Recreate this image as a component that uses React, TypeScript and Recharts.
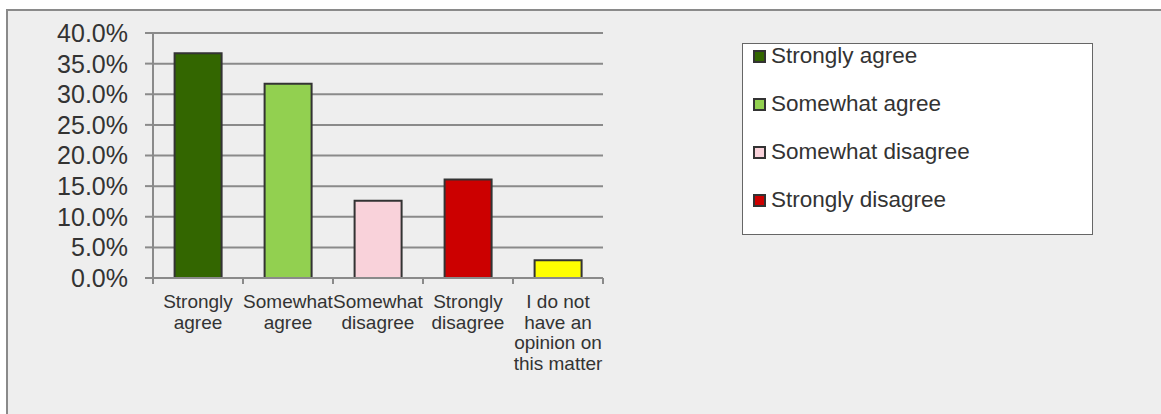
import React from "react"
import { Bar, BarChart, CartesianGrid, Cell, XAxis, YAxis } from "recharts"

const categories = [
  "Strongly agree",
  "Somewhat agree",
  "Somewhat disagree",
  "Strongly disagree",
  "I do not have an opinion on this matter",
]

// share of respondents, in percent
const shares = [36.7, 31.7, 12.6, 16.1, 2.9]

const colors = ["#336600", "#92d050", "#f9d2da", "#cc0000", "#ffff00"]

const tickLabels = [
  ["Strongly", "agree"],
  ["Somewhat", "agree"],
  ["Somewhat", "disagree"],
  ["Strongly", "disagree"],
  ["I do not", "have an", "opinion on", "this matter"],
]

const yTicks = [0, 5, 10, 15, 20, 25, 30, 35, 40]

// the legend only lists the first four answers
const legendItems = categories.slice(0, 4)

const data = categories.map((name, i) => ({ name, share: shares[i] }))

const FONT = '"Liberation Sans", Arial, sans-serif'
const GRID = "#8a8a8a"
const TEXT = "#333333"

function CategoryTick(props: any) {
  const { x, y, payload, index } = props
  const half = payload && typeof payload.offset === "number" && payload.offset > 0 ? payload.offset : 45
  const lines = tickLabels[index] || [String(payload.value)]
  return (
    <g>
      <line x1={x - half} y1={y} x2={x - half} y2={y + 6} stroke={GRID} strokeWidth={2} />
      {index === categories.length - 1 && (
        <line x1={x + half} y1={y} x2={x + half} y2={y + 6} stroke={GRID} strokeWidth={2} />
      )}
      <text x={x} y={y + 30} textAnchor="middle" fill={TEXT} fontSize={19} fontFamily={FONT}>
        {lines.map((line, i) => (
          <tspan key={i} x={x} dy={i === 0 ? 0 : 20.5}>
            {line}
          </tspan>
        ))}
      </text>
    </g>
  )
}

export default function App() {
  return (
    <div style={{ position: "absolute", left: 0, top: 0, width: 1161, height: 414, overflow: "hidden", background: "#ffffff" }}>
      <div
        style={{
          position: "absolute",
          left: 6,
          top: 9,
          width: 1161,
          height: 414,
          background: "#eeeeee",
          borderTop: `2px solid ${GRID}`,
          borderLeft: `2px solid ${GRID}`,
        }}
      />
      <div style={{ position: "absolute", left: 0, top: 0 }}>
        <BarChart
          width={1161}
          height={414}
          data={data}
          margin={{ top: 33, right: 558, bottom: 0, left: 0 }}
          barCategoryGap="24%"
        >
          <CartesianGrid vertical={false} stroke={GRID} strokeWidth={2} />
          <XAxis
            dataKey="name"
            interval={0}
            height={136}
            tickLine={false}
            tickSize={0}
            tickMargin={0}
            axisLine={{ stroke: GRID, strokeWidth: 2 }}
            tick={<CategoryTick />}
          />
          <YAxis
            width={153}
            domain={[0, 40]}
            ticks={yTicks}
            interval={0}
            tickSize={8}
            tickMargin={17}
            tickLine={{ stroke: GRID, strokeWidth: 2 }}
            axisLine={{ stroke: GRID, strokeWidth: 2 }}
            tick={{ fill: TEXT, fontSize: 25, fontFamily: FONT }}
            tickFormatter={(v: number) => `${v.toFixed(1)}%`}
          />
          <Bar dataKey="share" stroke="#333333" strokeWidth={2} isAnimationActive={false}>
            {data.map((d, i) => (
              <Cell key={d.name} fill={colors[i]} />
            ))}
          </Bar>
        </BarChart>
      </div>
      <div
        style={{
          position: "absolute",
          left: 742,
          top: 43,
          width: 349,
          height: 190,
          background: "#ffffff",
          border: "1px solid #666666",
          fontFamily: FONT,
          fontSize: 22.5,
          color: TEXT,
        }}
      >
        <div style={{ position: "relative", top: -12 }}>
          {legendItems.map((name, i) => (
            <div key={name} style={{ height: 48, display: "flex", alignItems: "center", paddingLeft: 10 }}>
              <span
                style={{
                  display: "inline-block",
                  width: 9,
                  height: 9,
                  background: colors[i],
                  border: "2px solid #333333",
                  marginRight: 5,
                }}
              />
              <span>{name}</span>
            </div>
          ))}
        </div>
      </div>
    </div>
  )
}
